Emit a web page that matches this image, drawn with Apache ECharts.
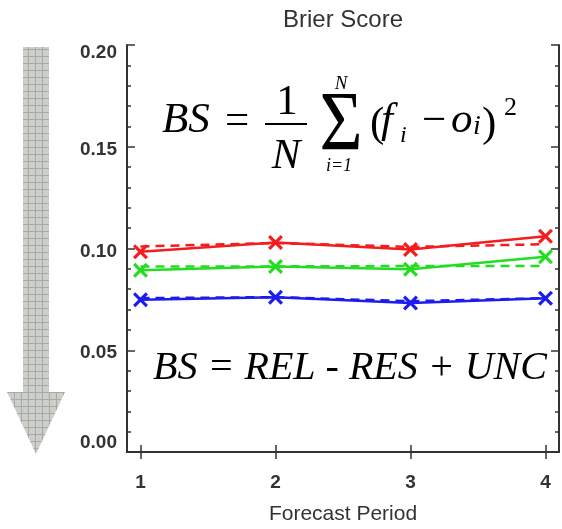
<!DOCTYPE html>
<html>
<head>
<meta charset="utf-8">
<title>Brier Score</title>
<script src="https://cdn.jsdelivr.net/npm/echarts@6/dist/echarts.min.js"></script>
<style>
  html, body { margin: 0; padding: 0; background: #fff; }
  #brier { width: 562px; height: 529px; }
</style>
</head>
<body>
<div id="brier"></div>
<script>
// forecast periods (x) and the Brier score per line
var periods = [1, 2, 3, 4];
var redSolid = [0.0984, 0.1029, 0.0995, 0.1060];
var redDashed = [0.1010, 0.1027, 0.1008, 0.1021];
var greenSolid = [0.0893, 0.0911, 0.0898, 0.0960];
var greenDashed = [0.0912, 0.0912, 0.0914, 0.0914];
var blueSolid = [0.0748, 0.0760, 0.0732, 0.0756];
var blueDashed = [0.0756, 0.0761, 0.0741, 0.0756];
var yTicks = [0, 0.05, 0.1, 0.15, 0.2];

function pairs(vals) {
  return periods.map(function (p, i) { return [p, vals[i]]; });
}

// X shaped marker
var cross = "path://M0,1.5L1.5,0L5,3.5L8.5,0L10,1.5L6.5,5L10,8.5L8.5,10L5,6.5L1.5,10L0,8.5L3.5,5Z";

// grid pattern for the arrow
var pc = document.createElement("canvas");
pc.width = 7;
pc.height = 7;
var pctx = pc.getContext("2d");
pctx.fillStyle = "#cfd1cc";
pctx.fillRect(0, 0, 7, 7);
pctx.fillStyle = "#c4c7c2";
for (var a = 0; a < 7; a += 2) {
  for (var b = (a % 4 === 0 ? 0 : 1); b < 7; b += 2) pctx.fillRect(a, b, 1, 1);
}
pctx.fillStyle = "#a6a9a4";
pctx.fillRect(0, 0, 7, 1);
pctx.fillRect(0, 0, 1, 7);

function solid(name, color, vals) {
  return {
    name: name, type: "line", data: pairs(vals),
    symbol: cross, symbolSize: 15, z: 3,
    lineStyle: { color: color, width: 2.5 },
    itemStyle: { color: color }
  };
}
function dashed(name, color, vals) {
  return {
    name: name, type: "line", data: pairs(vals),
    symbol: "none", z: 2,
    lineStyle: { color: color, width: 2.5, type: [9, 6] }
  };
}

var serif = "Liberation Serif";
function t(str, x, y, size, opt) {
  opt = opt || {};
  return {
    type: "text", x: x, y: y, z: 10,
    scaleY: opt.scaleY || 1,
    style: {
      text: str, fontFamily: serif, fontSize: size,
      fontStyle: opt.upright ? "normal" : "italic",
      fill: "#000", align: opt.align || "left", verticalAlign: "middle"
    }
  };
}

var labelColor = "#333";
var myChart = echarts.init(document.getElementById("brier"));
myChart.setOption({
  animation: false,
  title: {
    text: "Brier Score", left: 338, top: 3, textAlign: "center",
    textStyle: { fontFamily: "Liberation Sans", fontSize: 24, fontWeight: "normal", color: labelColor }
  },
  grid: { left: 127, right: 3, top: 45, bottom: 77, outerBoundsMode: "none", containLabel: false },
  xAxis: [{
    type: "value", min: 0.9, max: 4.1, position: "bottom",
    name: "Forecast Period", nameLocation: "middle", nameGap: 52,
    nameTextStyle: { fontFamily: "Liberation Sans", fontSize: 21, color: labelColor },
    axisLine: { show: true, lineStyle: { color: "#333", width: 2 } },
    axisTick: { show: true, inside: true, length: 7, customValues: periods, lineStyle: { color: "#333", width: 1.5 } },
    axisLabel: { customValues: periods, margin: 21, fontFamily: "Liberation Sans", fontSize: 19, fontWeight: "bold", color: labelColor },
    splitLine: { show: false }
  }, {
    type: "value", min: 0.9, max: 4.1, position: "top",
    axisLine: { show: true, lineStyle: { color: "#333", width: 2 } },
    axisTick: { show: true, inside: true, length: 7, customValues: periods, lineStyle: { color: "#333", width: 1.5 } },
    axisLabel: { show: false },
    splitLine: { show: false }
  }],
  yAxis: [{
    type: "value", min: 0, max: 0.2, interval: 0.05, position: "left",
    axisLine: { show: true, lineStyle: { color: "#333", width: 2 } },
    axisTick: { show: true, inside: true, length: 8, lineStyle: { color: "#333", width: 1.5 } },
    minorTick: { show: true, splitNumber: 5, length: 4, lineStyle: { color: "#333", width: 1.5 } },
    axisLabel: {
      margin: 10, color: labelColor,
      formatter: function (v) {
        var s = v.toFixed(2);
        if (Math.abs(v - yTicks[0]) < 1e-9) return "{lo|" + s + "}";
        if (Math.abs(v - yTicks[yTicks.length - 1]) < 1e-9) return "{hi|" + s + "}";
        return "{mid|" + s + "}";
      },
      rich: {
        lo: { fontFamily: "Liberation Sans", fontSize: 19, fontWeight: "bold", color: labelColor, padding: [0, 0, 18, 0] },
        hi: { fontFamily: "Liberation Sans", fontSize: 19, fontWeight: "bold", color: labelColor, padding: [16, 0, 0, 0] },
        mid: { fontFamily: "Liberation Sans", fontSize: 19, fontWeight: "bold", color: labelColor, padding: [6, 0, 0, 0] }
      }
    },
    splitLine: { show: false }
  }, {
    type: "value", min: 0, max: 0.2, interval: 0.05, position: "right",
    axisLine: { show: true, lineStyle: { color: "#333", width: 2 } },
    axisTick: { show: true, inside: true, length: 8, lineStyle: { color: "#333", width: 1.5 } },
    minorTick: { show: true, splitNumber: 5, length: 4, lineStyle: { color: "#333", width: 1.5 } },
    axisLabel: { show: false },
    splitLine: { show: false }
  }],
  series: [
    dashed("red dashed", "#f41c1c", redDashed),
    dashed("green dashed", "#22dd22", greenDashed),
    dashed("blue dashed", "#1c1cf0", blueDashed),
    solid("red", "#f41c1c", redSolid),
    solid("green", "#22dd22", greenSolid),
    solid("blue", "#1c1cf0", blueSolid)
  ],
  graphic: [
    {
      type: "polygon", z: 1,
      shape: { points: [[23, 47], [49, 47], [49, 392], [65, 392], [36, 454], [7, 392], [23, 392]] },
      style: { fill: { image: pc, repeat: "repeat" }, stroke: null }
    },
    // BS = 1/N sum (f_i - o_i)^2
    t("BS", 162, 121, 43),
    t("=", 225, 122, 43, { upright: true }),
    { type: "rect", z: 10, shape: { x: 265, y: 123, width: 42, height: 2 }, style: { fill: "#000" } },
    t("1", 287, 103, 43, { upright: true, align: "center" }),
    t("N", 286, 157, 43, { align: "center" }),
    t("\u03a3", 341, 128, 74, { upright: true, align: "center", scaleY: 1.15 }),
    t("N", 341, 84, 19, { align: "center" }),
    t("i=1", 339, 166, 18, { align: "center" }),
    t("(", 370, 125, 43, { upright: true }),
    t("f", 381, 121, 43),
    t("i", 400, 136, 24),
    t("\u2212", 422, 122, 43, { upright: true }),
    t("o", 451, 121, 43),
    t("i", 473, 127, 28),
    t(")", 482, 125, 43, { upright: true }),
    t("2", 504, 108, 26, { upright: true }),
    // decomposition
    t("BS = REL - RES + UNC", 350, 368, 40, { align: "center" })
  ]
});
</script>
</body>
</html>
